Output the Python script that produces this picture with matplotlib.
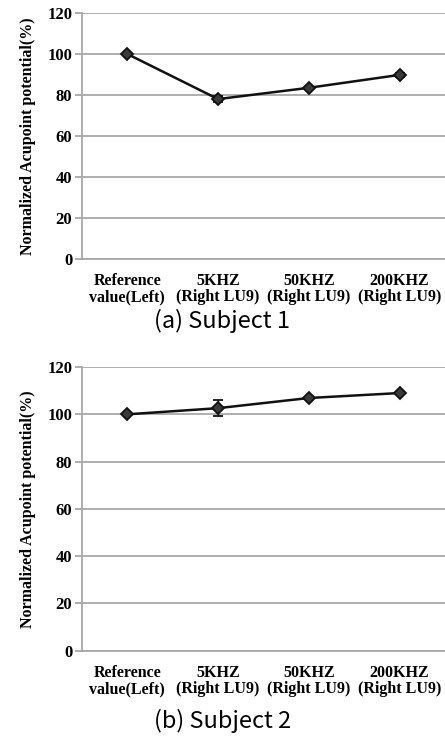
import numpy as np
import matplotlib
matplotlib.use('Agg')
import matplotlib.pyplot as plt

categories = ['Reference\nvalue(Left)', '5KHZ\n(Right LU9)', '50KHZ\n(Right LU9)', '200KHZ\n(Right LU9)']
subject1 = [100, 78, 83.5, 89.8]
subject1_err = [0.3, 1.6, 0.6, 0.8]
subject2 = [100, 102.6, 106.9, 109.0]
subject2_err = [0.3, 3.4, 0.6, 0.5]
captions = ['(a) Subject 1', '(b) Subject 2']

fig = plt.figure(figsize=(4.45, 7.37), dpi=100)

serif = ['Liberation Serif', 'DejaVu Serif']
grid_clr = '#a8a8a8'


def make_panel(rect, values, errs):
    ax = fig.add_axes(rect)
    x = np.arange(len(categories))
    ax.errorbar(x, values, yerr=errs, color='#111111', lw=1.8, marker='D',
                markersize=6, markerfacecolor='#3a3a3a', markeredgecolor='#111111',
                markeredgewidth=1.3, capsize=3.5, elinewidth=1.0, zorder=3)
    ax.set_xlim(-0.5, len(categories) - 0.5)
    ax.set_ylim(0, 120)
    ax.set_yticks(np.arange(0, 121, 20))
    ax.yaxis.grid(True, color=grid_clr, lw=1.3)
    ax.set_axisbelow(True)
    for s in ['top', 'right']:
        ax.spines[s].set_visible(False)
    ax.spines['left'].set_color(grid_clr)
    ax.spines['bottom'].set_color(grid_clr)
    ax.spines['left'].set_linewidth(1.3)
    ax.spines['bottom'].set_linewidth(1.3)
    ax.tick_params(axis='y', length=5, color=grid_clr, width=1.3, pad=2)
    ax.tick_params(axis='x', length=0, pad=10)
    ax.set_xticks(x)
    ax.set_xticklabels(categories, family=serif, fontweight='bold', fontsize=11.5,
                       linespacing=1.05)
    for lab in ax.get_yticklabels():
        lab.set_family(serif)
        lab.set_fontweight('bold')
        lab.set_fontsize(12)
    ax.set_ylabel('Normalized Acupoint potential(%)', family=serif, fontweight='bold',
                  fontsize=11.5, labelpad=8)
    return ax


ax1 = make_panel([0.184, 0.6486, 0.816, 0.3338], subject1, subject1_err)
ax2 = make_panel([0.184, 0.117, 0.816, 0.385], subject2, subject2_err)

fig.text(0.5, 1 - 321 / 737, captions[0], ha='center', va='center', fontsize=17,
         family=['Noto Sans CJK KR', 'DejaVu Sans'], fontweight='light')
fig.text(0.5, 1 - 721 / 737, captions[1], ha='center', va='center', fontsize=17,
         family=['Noto Sans CJK KR', 'DejaVu Sans'], fontweight='light')

plt.savefig('out.png', dpi=100)
